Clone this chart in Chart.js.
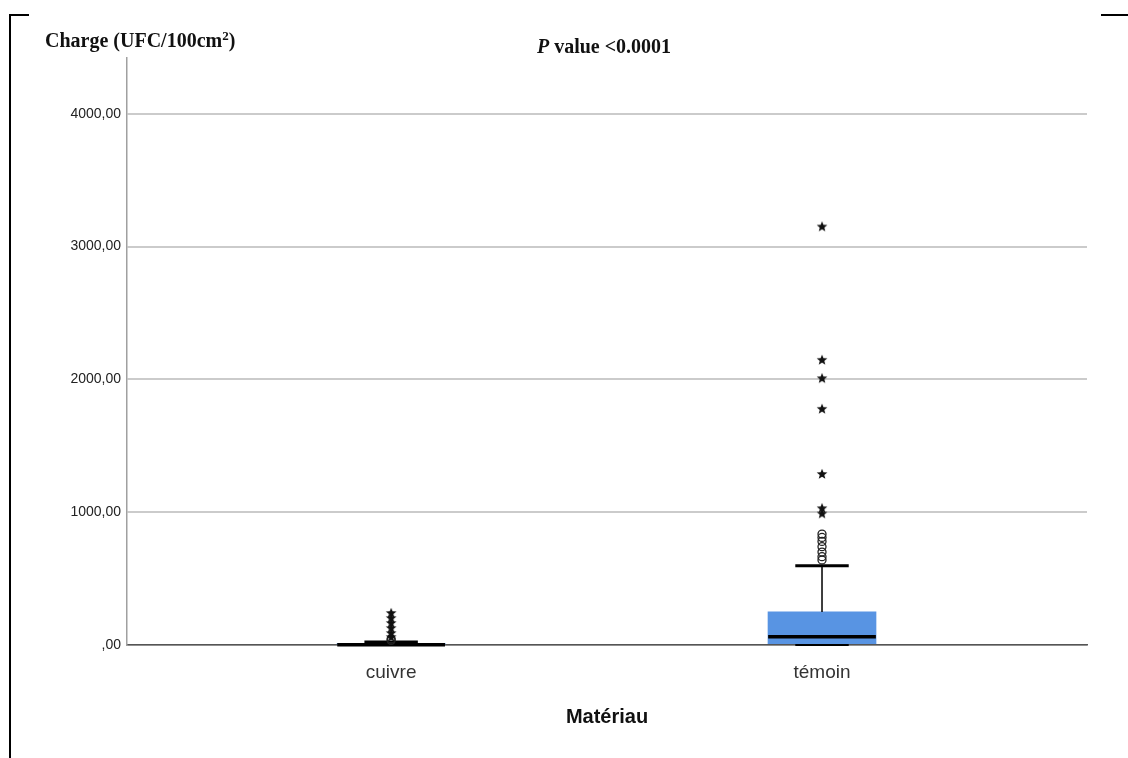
<!DOCTYPE html>
<html>
<head>
<meta charset="utf-8">
<script src="https://cdn.jsdelivr.net/npm/chart.js@4"></script>
<style>
  body { margin: 0; background: #fff; }
  #wrap { position: relative; width: 1128px; height: 758px; overflow: hidden; }
  #chart { position: absolute; left: 0; top: 0; }
  .serif { position: absolute; font-family: "Liberation Serif", "Times New Roman", serif; font-weight: bold; color: #111; white-space: nowrap; line-height: 23px; }
  .mark { position: absolute; background: #000; }
</style>
</head>
<body>
<div id="wrap">
  <canvas id="chart" width="1128" height="758"></canvas>
  <div class="serif" id="ytitle" style="left:45px; top:29px; font-size:20px;">Charge (UFC/100cm<span style="font-size:13px; position:relative; top:-7px;">2</span>)</div>
  <div class="serif" id="ptitle" style="left:604px; top:35px; font-size:20px; transform:translateX(-50%);"><i>P</i> value &lt;0.0001</div>
  <div class="mark" style="left:9px; top:14px; width:20px; height:2px;"></div>
  <div class="mark" style="left:9px; top:14px; width:2px; height:744px;"></div>
  <div class="mark" style="left:1101px; top:14px; width:27px; height:2px;"></div>
</div>
<script>
// categories and their position on the x axis
const categories = ['cuivre', 'témoin'];
const catPos = [1, 2];

// box plot summary per category
const q1 = [0, 10];
const q3 = [12, 249];
const median = [1, 63];
const whiskerLow = [0, 0];
const whiskerHigh = [23, 597];

// outliers (circles) and extreme values (stars)
const cuivreCircles = [35, 45];
const cuivreStars = [60, 90, 128, 166, 203, 241];
const temoinCircles = [640, 665, 700, 740, 780, 810, 835];
const temoinStars = [990, 1030, 1288, 1778, 2009, 2147, 3151];

const yTicks = [0, 1000, 2000, 3000, 4000];

// half widths in x units (box is ~108px, caps half of it)
const boxHalf = 0.125;
const capHalf = 0.062;

// star marker
function makeStar() {
    const c = document.createElement('canvas');
    c.width = 12; c.height = 12;
    const g = c.getContext('2d');
    g.beginPath();
    for (let i = 0; i < 10; i++) {
        const r = i % 2 === 0 ? 5.6 : 2.4;
        const a = -Math.PI / 2 + i * Math.PI / 5;
        const px = 6 + r * Math.cos(a), py = 6.3 + r * Math.sin(a);
        if (i === 0) g.moveTo(px, py); else g.lineTo(px, py);
    }
    g.closePath();
    g.fillStyle = '#111';
    g.fill();
    return c;
}
const star = makeStar();

function segments(fn) {
    const out = [];
    catPos.forEach((p, i) => {
        fn(p, i).forEach(s => out.push(s));
        out.push({ x: p + 0.5, y: null });
    });
    return out;
}

const medianData = segments((p, i) => [{ x: p - boxHalf, y: median[i] }, { x: p + boxHalf, y: median[i] }]);
const capData = segments((p, i) => [{ x: p - capHalf, y: whiskerHigh[i] }, { x: p + capHalf, y: whiskerHigh[i] }]);
const lowCapData = segments((p, i) => [{ x: p - capHalf, y: whiskerLow[i] }, { x: p + capHalf, y: whiskerLow[i] }]);
const stemData = segments((p, i) => [{ x: p, y: q3[i] }, { x: p, y: whiskerHigh[i] }]);

const ctx = document.getElementById('chart').getContext('2d');
new Chart(ctx, {
    data: {
        datasets: [
            {
                type: 'scatter',
                data: cuivreStars.map(v => ({ x: catPos[0], y: v })).concat(temoinStars.map(v => ({ x: catPos[1], y: v }))),
                pointStyle: star,
                clip: false
            },
            {
                type: 'scatter',
                data: cuivreCircles.map(v => ({ x: catPos[0], y: v })).concat(temoinCircles.map(v => ({ x: catPos[1], y: v }))),
                pointStyle: 'circle',
                pointRadius: 4,
                borderColor: '#222',
                borderWidth: 1.3,
                backgroundColor: 'rgba(255,255,255,0)',
                clip: false
            },
            { type: 'line', data: capData, borderColor: '#000', borderWidth: 3, pointRadius: 0, spanGaps: false, clip: false },
            { type: 'line', data: lowCapData, borderColor: '#000', borderWidth: 2, pointRadius: 0, spanGaps: false, clip: false },
            { type: 'line', data: medianData, borderColor: '#000', borderWidth: 3.5, pointRadius: 0, spanGaps: false, clip: false },
            { type: 'line', data: stemData, borderColor: '#000', borderWidth: 1.5, pointRadius: 0, spanGaps: false, clip: false },
            {
                type: 'bar',
                data: catPos.map((p, i) => ({ x: p, y: [q1[i], q3[i]] })),
                backgroundColor: '#5894e3',
                borderWidth: 0,
                barThickness: 108
            }
        ]
    },
    options: {
        responsive: false,
        animation: false,
        layout: { padding: { top: 58, right: 41, bottom: 0, left: 0 } },
        plugins: { legend: { display: false }, tooltip: { enabled: false } },
        scales: {
            x: {
                type: 'linear',
                min: 0.387,
                max: 2.615,
                offset: false,
                afterFit: s => { s.height = 113; },
                afterBuildTicks: s => { s.ticks = catPos.map(v => ({ value: v })); },
                grid: { display: false },
                border: { display: true, color: '#555', width: 1.5 },
                ticks: {
                    padding: 8,
                    color: '#333',
                    font: { family: 'Liberation Sans', size: 19 },
                    callback: v => categories[catPos.indexOf(v)] || ''
                },
                title: {
                    display: true,
                    text: 'Matériau',
                    color: '#111',
                    font: { family: 'Liberation Sans', size: 20, weight: 'bold' },
                    padding: { top: 0, bottom: 29 }
                }
            },
            y: {
                min: 0,
                max: 4420,
                afterFit: s => { s.width = 127; },
                afterBuildTicks: s => { s.ticks = yTicks.map(v => ({ value: v })); },
                grid: { color: '#cbcbcb', lineWidth: 2, drawTicks: false },
                border: { display: true, color: '#a0a0a0', width: 1.5 },
                ticks: {
                    padding: 6,
                    color: '#222',
                    font: { family: 'Liberation Sans', size: 14 },
                    callback: v => (v === 0 ? ',00' : v + ',00')
                }
            }
        }
    }
});
</script>
</body>
</html>
